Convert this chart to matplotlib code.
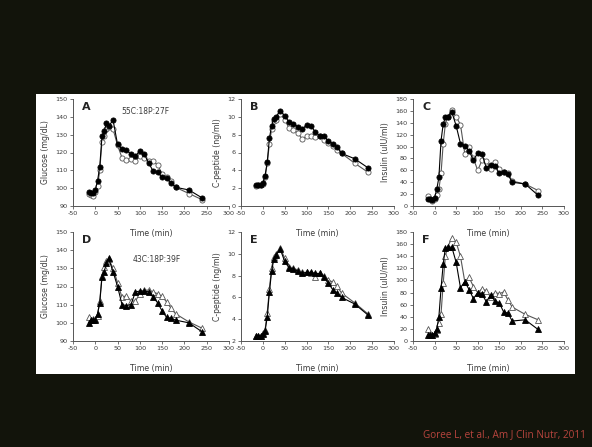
import numpy as np
import matplotlib.pyplot as plt
from matplotlib.patches import Rectangle

plt.rcParams['axes.unicode_minus'] = False

# sampling times (min)
t = [-15, -10, -5, 0, 5, 10, 15, 20, 25, 30, 40, 50, 60, 70, 80, 90, 100,
     110, 120, 130, 140, 150, 160, 170, 180, 210, 240]

# 55C:18P:27F meal (top row)
glu_a_fill = [98, 97.5, 97.5, 99, 104, 112, 129, 132, 136.5, 135, 138, 124.5, 122,
              121.5, 119, 118, 121, 119, 114, 109.5, 109, 106, 105.5, 103, 100.5, 99, 94.5]
glu_a_open = [96.5, 96, 95.5, 98, 101, 110, 126, 129, 133, 134.5, 133, 124, 117,
              116, 116.5, 115, 118, 117, 115.5, 115, 113, 108, 106.5, 104, 100.5, 97, 93.5]
cpep_b_fill = [2.4, 2.35, 2.4, 2.6, 3.4, 4.9, 7.6, 9.0, 9.8, 10.0, 10.7, 10.1, 9.4,
               9.2, 8.9, 8.6, 9.1, 9.0, 8.3, 7.9, 7.8, 7.3, 7.0, 6.6, 5.9, 5.3, 4.3]
cpep_b_open = [2.25, 2.3, 2.3, 2.5, 3.2, 4.8, 7.0, 8.6, 9.5, 9.7, 10.3, 9.7, 8.7,
               8.5, 8.2, 7.5, 7.8, 7.9, 7.7, 7.8, 7.4, 7.1, 6.7, 6.3, 5.9, 4.8, 3.8]
ins_c_fill = [11, 11, 10, 14, 28, 48, 110, 138, 149, 150, 158, 135, 105,
              101, 93, 77, 89, 87, 64, 69, 68, 55, 58, 53, 40, 37, 18]
ins_c_open = [17, 12, 9, 12, 18, 28, 55, 105, 138, 150, 161, 150, 137,
              88, 99, 80, 60, 77, 76, 62, 74, 63, 57, 55, 42, 37, 26]

# 43C:18P:39F meal (bottom row)
glu_d_fill = [100, 101.5, 101.5, 101.5, 105, 111, 125, 128, 133, 135.5, 128, 120, 110,
              109.5, 110, 117, 117.5, 117.5, 117, 114, 111, 106.5, 103, 102.5, 101.5, 100, 95]
glu_d_open = [103, 101.5, 102, 102, 104, 112, 126, 131, 134, 135, 130, 122, 114,
              115, 112, 112, 116, 118, 118, 117, 116, 114.5, 111.5, 108, 105, 100.5, 97]
cpep_e_fill = [2.45, 2.45, 2.45, 2.6, 2.9, 4.2, 6.5, 8.4, 9.5, 9.9, 10.4, 9.3, 8.7,
               8.6, 8.4, 8.2, 8.3, 8.3, 8.2, 8.2, 7.9, 7.3, 6.7, 6.4, 6.0, 5.4, 4.4]
cpep_e_open = [2.5, 2.5, 2.5, 2.7, 3.0, 4.6, 6.8, 8.7, 9.7, 10.0, 10.5, 9.6, 8.8,
               8.7, 8.5, 8.3, 8.3, 8.2, 7.9, 8.2, 8.0, 7.6, 7.4, 7.0, 6.4, 5.5, 4.5]
ins_f_fill = [10, 10, 10, 13, 20, 40, 87, 127, 154, 155, 155, 130, 88,
              98, 85, 70, 80, 77, 65, 76, 66, 63, 48, 46, 33, 35, 19]
ins_f_open = [20, 12, 10, 12, 18, 30, 45, 95, 140, 155, 170, 163, 140,
              98, 105, 90, 80, 86, 83, 73, 80, 78, 81, 68, 56, 44, 35]

W, H = 592, 447
fig = plt.figure(figsize=(W / 100, H / 100), dpi=100)
fig.patch.set_facecolor('#12140b')
fig.patches.append(Rectangle((36 / W, 1 - 374 / H), (575 - 36) / W, (374 - 94) / H,
                             transform=fig.transFigure, facecolor='white',
                             edgecolor='none', zorder=-10))

tc = '#3a3a3a'
lefts = [73, 241, 413]
rights = [229, 394, 564]
tops = [99, 232]
bots = [206, 341]

panels = [
    ('A', glu_a_fill, glu_a_open, 'o', (90, 150), 10, 'Glucose (mg/dL)'),
    ('B', cpep_b_fill, cpep_b_open, 'o', (0, 12), 2, 'C-peptide (ng/ml)'),
    ('C', ins_c_fill, ins_c_open, 'o', (0, 180), 20, 'Insulin (uIU/ml)'),
    ('D', glu_d_fill, glu_d_open, '^', (90, 150), 10, 'Glucose (mg/dL)'),
    ('E', cpep_e_fill, cpep_e_open, '^', (2, 12), 2, 'C-peptide (ng/ml)'),
    ('F', ins_f_fill, ins_f_open, '^', (0, 180), 20, 'Insulin (uIU/ml)'),
]

for i, (lab, yf, yo, mk, ylim, step, ylab) in enumerate(panels):
    r, c = divmod(i, 3)
    l, rr = lefts[c], rights[c]
    tp, bt = tops[r], bots[r]
    ax = fig.add_axes([l / W, 1 - bt / H, (rr - l) / W, (bt - tp) / H])
    ax.set_facecolor('none')
    ax.plot(t, yo, '-', color='#555555', lw=0.8, marker=mk, ms=3.7,
            mfc='white', mec='#555555', mew=0.6)
    ax.plot(t, yf, '-', color='black', lw=0.8, marker=mk, ms=3.7,
            mfc='black', mec='black', mew=0.6)
    ax.set_xlim(-50, 300)
    ax.set_ylim(*ylim)
    ax.set_xticks(np.arange(-50, 301, 50))
    ax.set_yticks(np.arange(ylim[0], ylim[1] + 0.1, step))
    for s in ['top', 'right']:
        ax.spines[s].set_visible(False)
    for s in ['left', 'bottom']:
        ax.spines[s].set_color('#555555')
        ax.spines[s].set_linewidth(0.7)
    ax.tick_params(labelsize=4.6, colors=tc, length=2, width=0.5, pad=1.8)
    ax.set_ylabel(ylab, fontsize=5.6, color=tc, labelpad=4)
    ax.set_xlabel('Time (min)', fontsize=5.6, color=tc, labelpad=9)
    ax.text(0.06, 0.97, lab, transform=ax.transAxes, fontsize=8,
            fontweight='bold', color='#222222', va='top', ha='left')

fig.text(145 / W, 1 - 112 / H, '55C:18P:27F', fontsize=5.5, color=tc,
         ha='center', va='center')
fig.text(157 / W, 1 - 260 / H, '43C:18P:39F', fontsize=5.5, color=tc,
         ha='center', va='center')

fig.text(586 / W, 1 - 435 / H, 'Goree L, et al., Am J Clin Nutr, 2011',
         fontsize=7.2, color='#b8453e', ha='right', va='center',
         family='Open Sans')

fig.savefig('out.png', dpi=100, facecolor=fig.get_facecolor())
